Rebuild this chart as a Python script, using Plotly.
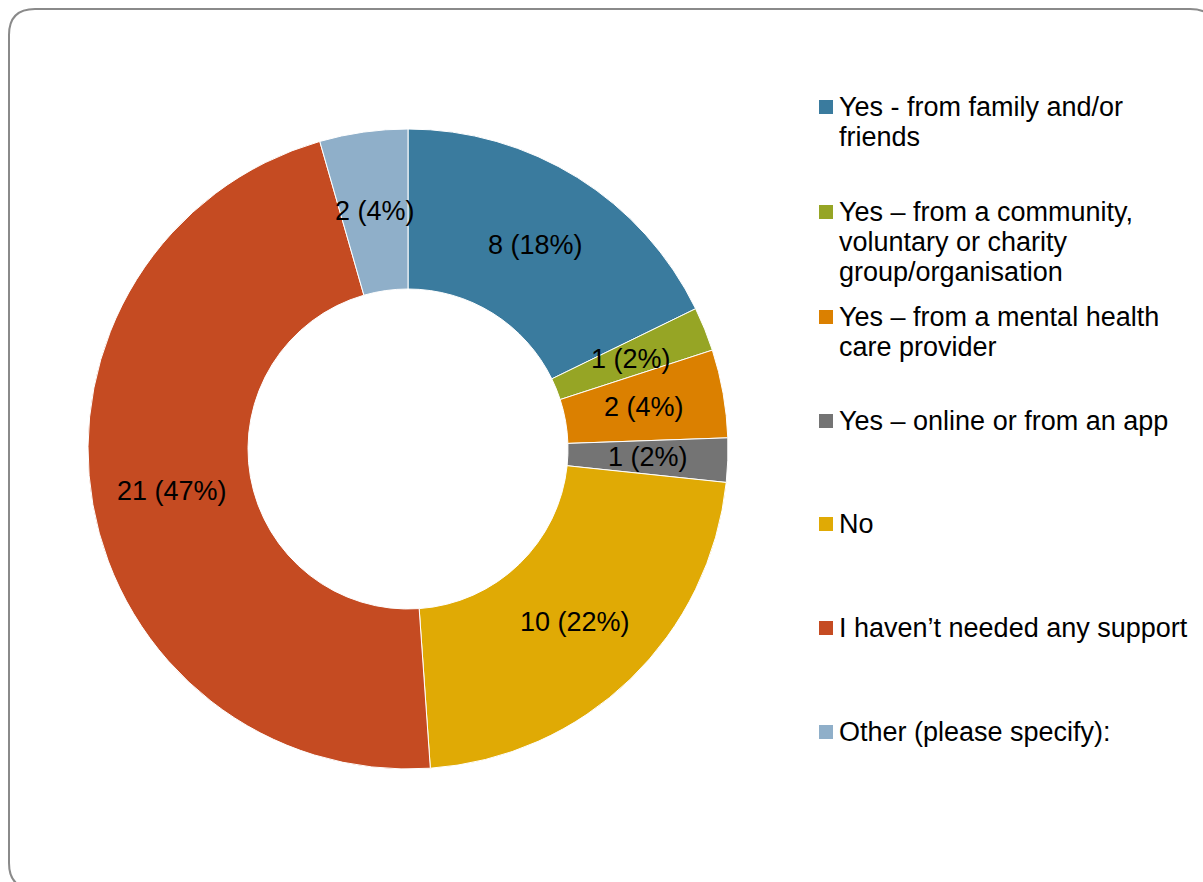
import math
import plotly.graph_objects as go

# Survey responses
categories = [
    "Yes - from family and/or friends",
    "Yes \u2013 from a community, voluntary or charity group/organisation",
    "Yes \u2013 from a mental health care provider",
    "Yes \u2013 online or from an app",
    "No",
    "I haven\u2019t needed any support",
    "Other (please specify):",
]
legend_lines = [
    ["Yes - from family and/or", "friends"],
    ["Yes \u2013 from a community,", "voluntary or charity", "group/organisation"],
    ["Yes \u2013 from a mental health", "care provider"],
    ["Yes \u2013 online or from an app"],
    ["No"],
    ["I haven\u2019t needed any support"],
    ["Other (please specify):"],
]
counts = [8, 1, 2, 1, 10, 21, 2]
colors = ["#3A7B9E", "#96A525", "#DB8000", "#747474", "#E0AA05", "#C54B22", "#8FAFC9"]

W, H = 1203, 882
FONT = "Arial, Liberation Sans, sans-serif"
FONT_SIZE = 27

def px(x):
    return x / W

def py(y):
    return 1 - y / H

# Donut geometry (pixels)
cx, cy, R = 408, 449, 320
hole = 0.5

fig = go.Figure()
fig.add_trace(go.Pie(
    labels=categories,
    values=counts,
    hole=hole,
    sort=False,
    direction="clockwise",
    rotation=0,
    marker=dict(colors=colors, line=dict(color="#FFFFFF", width=1)),
    textinfo="none",
    hoverinfo="label+value+percent",
    showlegend=False,
    domain=dict(x=[px(cx - R), px(cx + R)], y=[py(cy + R), py(cy - R)]),
))

annotations = []
total = sum(counts)
cum = 0
label_r = R * (1 + hole) / 2
for n in counts:
    mid = (cum + n / 2) / total * 2 * math.pi
    cum += n
    lx = cx + label_r * math.sin(mid)
    ly = cy - label_r * math.cos(mid)
    pct = round(100 * n / total)
    annotations.append(dict(
        x=px(lx), y=py(ly), xref="paper", yref="paper",
        text=f"{n} ({pct}%)", showarrow=False,
        xanchor="center", yanchor="middle",
        font=dict(family=FONT, size=FONT_SIZE, color="#000000"),
    ))

# Legend drawn manually
shapes = []
item_y = [107, 212, 317, 421, 524, 628, 732]
line_step = 30
for lines, col, y0 in zip(legend_lines, colors, item_y):
    shapes.append(dict(
        type="rect", xref="paper", yref="paper",
        x0=px(819), x1=px(833), y0=py(y0 + 7), y1=py(y0 - 7),
        fillcolor=col, line=dict(width=0),
    ))
    for i, t in enumerate(lines):
        annotations.append(dict(
            x=px(837), y=py(y0 + i * line_step), xref="paper", yref="paper",
            text=t, showarrow=False, xanchor="left", yanchor="middle",
            font=dict(family=FONT, size=FONT_SIZE, color="#000000"),
        ))

# Rounded frame around the chart area
x0, y0, x1, y1, r = 9, 9, 1216, 889, 26
path = (
    f"M {px(x0 + r)},{py(y0)} L {px(x1 - r)},{py(y0)} "
    f"Q {px(x1)},{py(y0)} {px(x1)},{py(y0 + r)} "
    f"L {px(x1)},{py(y1 - r)} Q {px(x1)},{py(y1)} {px(x1 - r)},{py(y1)} "
    f"L {px(x0 + r)},{py(y1)} Q {px(x0)},{py(y1)} {px(x0)},{py(y1 - r)} "
    f"L {px(x0)},{py(y0 + r)} Q {px(x0)},{py(y0)} {px(x0 + r)},{py(y0)} Z"
)
shapes.append(dict(type="path", xref="paper", yref="paper", path=path,
                   line=dict(color="#8A8A8A", width=2), layer="below"))

fig.update_layout(
    width=W, height=H,
    margin=dict(l=0, r=0, t=0, b=0),
    paper_bgcolor="#FFFFFF",
    plot_bgcolor="#FFFFFF",
    annotations=annotations,
    shapes=shapes,
    showlegend=False,
)

fig.write_html("out.html")
